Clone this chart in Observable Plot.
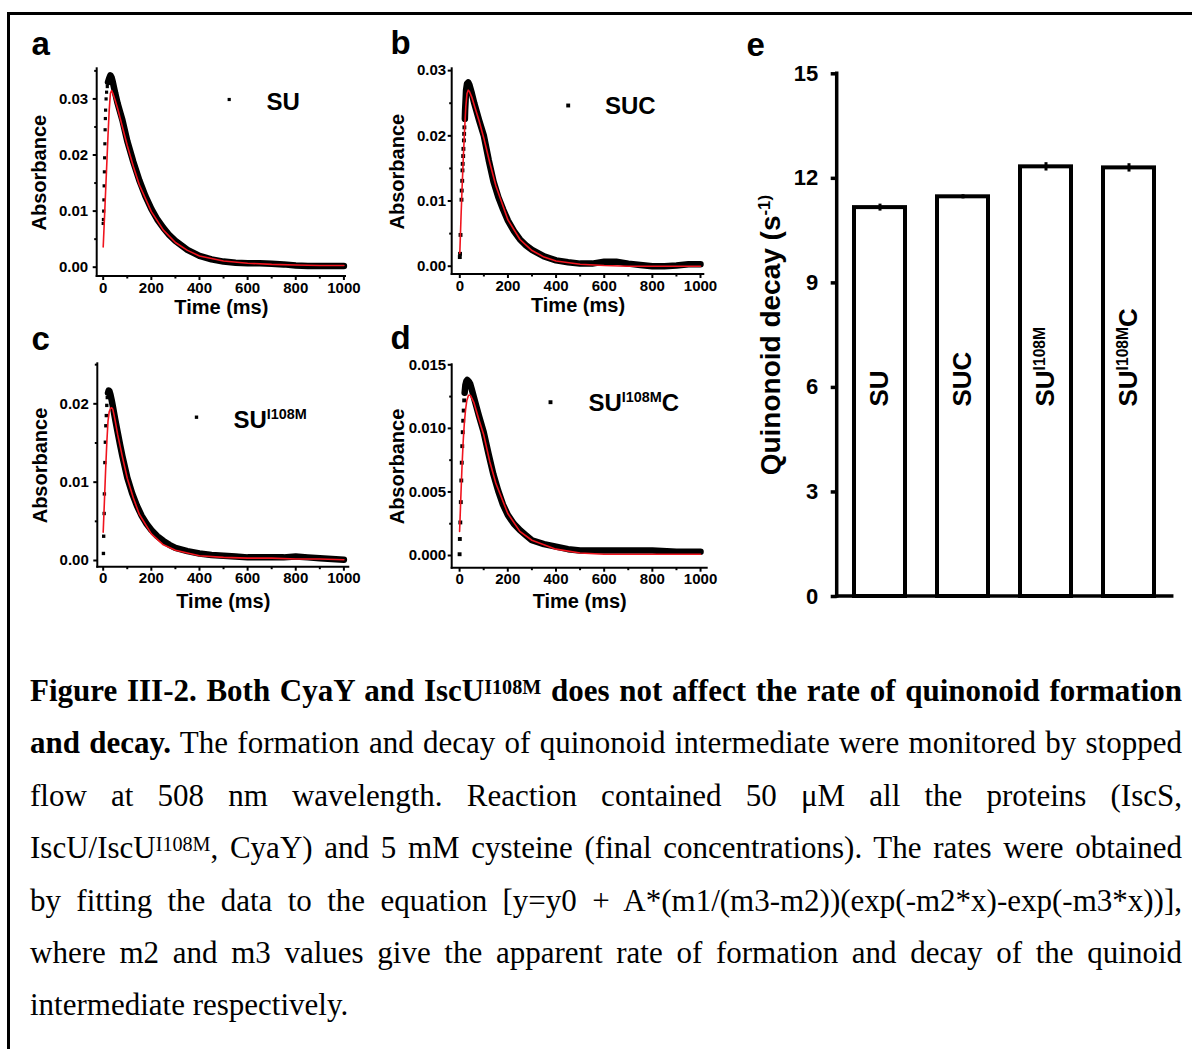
<!DOCTYPE html>
<html><head><meta charset="utf-8">
<script src="https://cdn.jsdelivr.net/npm/d3@7"></script>
<script src="https://cdn.jsdelivr.net/npm/@observablehq/plot@0.6"></script>
<style>
html,body{margin:0;padding:0;background:#fff;}
#fig{position:relative;width:1192px;height:1049px;overflow:hidden;background:#fff;}
#border{position:absolute;left:7px;top:12px;width:1200px;height:1060px;border-top:3px solid #000;border-left:3px solid #000;}
.panel{position:absolute;}
.cap{position:absolute;left:30px;font-family:"Liberation Serif","Times New Roman",serif;font-size:31px;line-height:31px;white-space:nowrap;color:#000;}
.cap sup{font-size:0.65em;vertical-align:baseline;position:relative;top:-0.36em;line-height:0;}
</style></head><body><div id="fig"><div id="border"></div></div>
<script>
// ---------- data ----------
const xMajor = [0, 200, 400, 600, 800, 1000];
const xMinor = [100, 300, 500, 700, 900];

// panel a : SU
const timeSU = [0,1,2,3,4,5,6,7,8,9,10,12,14,17,20,25,30,35,40,50,60,70,80,100,125,150,175,200,225,250,275,300,350,400,450,500,550,600,650,700,750,800,850,900,950,1000];
const absSU  = [0.0078,0.0085,0.0100,0.0120,0.0145,0.0170,0.0195,0.0220,0.0245,0.0265,0.0280,0.0300,0.0312,0.0322,0.0330,0.0337,0.0342,0.0338,0.0330,0.0310,0.0292,0.0277,0.0262,0.0225,0.0188,0.0155,0.0127,0.0104,0.0085,0.0070,0.0057,0.0047,0.0031,0.0020,0.0014,0.0010,0.0008,0.0007,0.0007,0.0006,0.0005,0.0003,0.0002,0.0002,0.0002,0.0002];
const fitTimeSU = [0,5,10,15,20,25,30,35,40,50,60,80,100,125,150,200,250,300,350,400,500,600,700,800,900,1000];
const fitSU     = [0.0036,0.0085,0.0135,0.0185,0.0235,0.0280,0.0310,0.0315,0.0310,0.0297,0.0283,0.0250,0.0217,0.0180,0.0147,0.0099,0.0066,0.0044,0.0030,0.0020,0.0011,0.0007,0.0005,0.0004,0.0003,0.0003];

// panel b : SUC
const timeSUC = [0,1,3,7,8,10,11,12,14,15,17,18,19,21,22,24,26,30,35,40,50,60,70,80,100,120,140,160,180,200,225,250,275,300,350,400,450,500,550,600,650,700,750,800,850,900,950,1000];
const absSUC  = [0.0014,0.0019,0.0048,0.0102,0.0116,0.0131,0.0147,0.0157,0.0169,0.0180,0.0193,0.0203,0.0213,0.0226,0.0239,0.0254,0.0270,0.0280,0.0282,0.0278,0.0265,0.0250,0.0237,0.0224,0.0200,0.0163,0.0130,0.0106,0.0087,0.0070,0.0054,0.0041,0.0032,0.0025,0.0015,0.0009,0.0006,0.0004,0.0004,0.0007,0.0007,0.0004,0.0002,0.0000,0.0000,0.0001,0.0003,0.0003];
const fitTimeSUC = [0,5,10,15,20,25,30,35,40,50,60,80,100,125,150,200,250,300,350,400,500,600,700,800,900,1000];
const fitSUC     = [0.0020,0.0075,0.0125,0.0170,0.0210,0.0245,0.0265,0.0270,0.0268,0.0259,0.0247,0.0223,0.0196,0.0158,0.0123,0.0071,0.0041,0.0024,0.0014,0.0008,0.0003,0.0001,0.0000,0.0000,0.0000,0.0000];

// panel c : SU I108M
const timeSUI = [1,2,4,5,7,9,11,13,15,17,20,23,26,30,35,40,50,60,70,80,100,120,140,160,180,200,225,250,275,300,350,400,450,500,550,600,650,700,750,800,850,900,950,1000];
const absSUI  = [0.0009,0.0031,0.0060,0.0085,0.0125,0.0151,0.0172,0.0185,0.0198,0.0208,0.0214,0.0217,0.0216,0.0212,0.0205,0.0197,0.0180,0.0164,0.0148,0.0133,0.0106,0.0086,0.0070,0.0057,0.0047,0.0039,0.0031,0.0025,0.0020,0.0016,0.0012,0.0009,0.0007,0.0006,0.0005,0.0004,0.0004,0.0004,0.0004,0.0005,0.0004,0.0003,0.0002,0.0001];
const fitTimeSUI = [0,5,10,15,20,25,30,35,40,45,50,60,80,100,125,150,200,250,300,400,500,600,700,800,900,1000];
const fitSUI     = [0.0036,0.0075,0.0115,0.0150,0.0178,0.0190,0.0194,0.0195,0.0193,0.0186,0.0178,0.0161,0.0132,0.0105,0.0080,0.0059,0.0034,0.0020,0.0013,0.0006,0.0004,0.0003,0.0003,0.0002,0.0002,0.0001];

// panel d : SU I108M C
const timeSUIC = [0,1,3,5,7,9,11,13,15,17,19,21,24,28,32,38,44,50,60,70,80,100,120,140,160,180,200,225,250,275,300,350,400,450,500,600,700,800,900,1000];
const absSUIC  = [0.0001,0.0013,0.0026,0.0042,0.0059,0.0073,0.0086,0.0097,0.0106,0.0114,0.0122,0.0128,0.0134,0.0137,0.0138,0.0137,0.0135,0.0131,0.0124,0.0117,0.0110,0.0097,0.0080,0.0064,0.0051,0.0040,0.0032,0.0025,0.0020,0.0016,0.0012,0.0009,0.0007,0.0005,0.0004,0.0004,0.0004,0.0004,0.0003,0.0003];
const fitTimeSUIC = [0,5,10,15,20,25,30,37,45,60,80,100,125,150,200,250,300,400,500,600,800,1000];
const fitSUIC     = [0.0019,0.0045,0.0070,0.0090,0.0105,0.0115,0.0122,0.0126,0.0126,0.0120,0.0107,0.0095,0.0074,0.0057,0.0033,0.0019,0.0012,0.0005,0.0002,0.0001,0.0001,0.0001];

// panel e : quinonoid decay rates
const eLabels = ["SU", "SUC", "SU^I108M", "SU^I108M^C"];
const eValues = [11.16, 11.47, 12.33, 12.30];
const eErrors = [0.10, 0.06, 0.12, 0.12];
const eTicks = [0, 3, 6, 9, 12, 15];
const eAxisTitle = "Quinonoid decay (s^-1)";

const captionLines = [
  "<b>Figure III-2. Both CyaY and IscU<sup>I108M</sup> does not affect the rate of quinonoid formation</b>",
  "<b>and decay.</b> The formation and decay of quinonoid intermediate were monitored by stopped",
  "flow at 508 nm wavelength. Reaction contained 50 μM all the proteins (IscS,",
  "IscU/IscU<sup>I108M</sup>, CyaY) and 5 mM cysteine (final concentrations). The rates were obtained",
  "by fitting the data to the equation [y=y0 + A*(m1/(m3-m2))(exp(-m2*x)-exp(-m3*x))],",
  "where m2 and m3 values give the apparent rate of formation and decay of the quinoid",
  "intermediate respectively."
];

// ---------- helpers ----------
const FONT = "'Liberation Sans', Arial, Helvetica, sans-serif";
const fig = document.getElementById("fig");
const rows = (ts, as) => ts.map((t, i) => ({t, a: as[i]}));

function frameLines(sw) {
  return (index, scales, values, dim) => {
    const g = d3.create("svg:g").attr("stroke", "black").attr("stroke-width", sw).attr("stroke-linecap", "square").attr("fill", "none");
    const l = dim.marginLeft, r = dim.width - dim.marginRight, t = dim.marginTop, b = dim.height - dim.marginBottom;
    g.append("line").attr("x1", l).attr("x2", l).attr("y1", t).attr("y2", b);
    g.append("line").attr("x1", l).attr("x2", r).attr("y1", b).attr("y2", b);
    return g.node();
  };
}

function supify(svg, base) {
  d3.select(svg).selectAll("text").each(function () {
    const s = this.textContent;
    if (!s.includes("^")) return;
    const parts = s.split("^");
    const sel = d3.select(this);
    const fs = +sel.attr("font-size") || +d3.select(this.parentNode).attr("font-size") || base;
    sel.text(null);
    const shift = fs * 0.36, small = fs * 0.6;
    parts.forEach((p, i) => {
      const ts = sel.append("tspan").text(p);
      if (i % 2 === 1) ts.attr("font-size", small).attr("dy", -shift);
      else if (i > 0) ts.attr("font-size", fs).attr("dy", shift);
    });
  });
}

function place(svg, left, top) {
  svg.classList.add("panel");
  svg.style.left = left + "px";
  svg.style.top = top + "px";
  fig.appendChild(svg);
}

function kinetic(c) {
  const ml = c.fL - c.left, mr = c.left + c.width - c.fR, mt = c.fT - c.top, mb = c.top + c.height - c.fB;
  const obs = rows(c.t, c.a), fit = rows(c.ft, c.fa);
  const svg = Plot.plot({
    width: c.width, height: c.height,
    marginLeft: ml, marginRight: mr, marginTop: mt, marginBottom: mb,
    style: {background: "transparent", fontFamily: FONT, fontWeight: "bold", color: "black", overflow: "visible"},
    x: {domain: c.xd},
    y: {domain: c.yd},
    marks: [
      frameLines(2),
      Plot.axisX({ticks: xMajor, tickFormat: d => String(d), tickSize: 4, tickPadding: 1.5, fontSize: 15, fontWeight: "bold", strokeWidth: 2, label: null}),
      Plot.axisX({ticks: xMinor, tickFormat: () => "", tickSize: 2.5, strokeWidth: 2, label: null}),
      Plot.axisY({ticks: c.yTicks, tickFormat: d3.format(c.yFmt), tickSize: 4, tickPadding: c.yPad, fontSize: 15, fontWeight: "bold", strokeWidth: 2, label: null}),
      Plot.axisY({ticks: c.yMinor, tickFormat: () => "", tickSize: 2.5, strokeWidth: 2, label: null}),
      Plot.line(obs, {filter: d => d.t >= 20, x: "t", y: "a", stroke: "black", strokeWidth: 6.5, strokeLinejoin: "round", strokeLinecap: "round"}),
      Plot.dot(obs, {filter: d => d.t <= 30, x: "t", y: "a", symbol: "square", r: c.r, fill: "black"}),
      Plot.line(fit, {x: "t", y: "a", stroke: "#f0141e", strokeWidth: 1.6}),
      Plot.text(["Absorbance"], {text: d => d, frameAnchor: "left", rotate: -90, dx: c.absX - c.fL, textAnchor: "middle", lineAnchor: "middle", fontSize: 20, fontWeight: "bold"}),
      Plot.text(["Time (ms)"], {text: d => d, frameAnchor: "bottom", dy: c.timeB - c.fB, textAnchor: "middle", lineAnchor: "bottom", fontSize: 20, fontWeight: "bold"}),
      Plot.dot([c.legend], {frameAnchor: "top-left", dx: c.sq[0] - c.fL, dy: c.sq[1] - c.fT, symbol: "square", r: c.r, fill: "black"}),
      Plot.text([c.legend], {text: d => d, frameAnchor: "top-left", dx: c.lt[0] - c.fL, dy: c.lt[1] - c.fT, textAnchor: "start", lineAnchor: "bottom", fontSize: 24, fontWeight: "bold"}),
      Plot.text([c.letter], {text: d => d, frameAnchor: "top-left", dx: c.pl[0] - c.fL, dy: c.pl[1] - c.fT, textAnchor: "start", lineAnchor: "bottom", fontSize: 33, fontWeight: "bold"})
    ]
  });
  supify(svg, 24);
  place(svg, c.left, c.top);
}

// ---------- panels a–d ----------
kinetic({letter: "a", legend: "SU", t: timeSU, a: absSU, ft: fitTimeSU, fa: fitSU,
  left: 0, top: 20, width: 370, height: 300, fL: 96.7, fR: 345, fT: 68.3, fB: 276,
  xd: [-24.9, 1006.6], yd: [-0.00166, 0.03537], yTicks: [0, 0.01, 0.02, 0.03], yMinor: [0.005, 0.015, 0.025, 0.035], yFmt: ".2f", yPad: 5,
  r: 1.8, absX: 39, timeB: 313, sq: [228.7, 99], lt: [266, 109.5], pl: [31, 54]});

kinetic({letter: "b", legend: "SUC", t: timeSUC, a: absSUC, ft: fitTimeSUC, fa: fitSUC,
  left: 370, top: 20, width: 360, height: 300, fL: 451.7, fR: 703.3, fT: 68.3, fB: 274,
  xd: [-31.6, 1013.7], yd: [-0.00127, 0.03028], yTicks: [0, 0.01, 0.02, 0.03], yMinor: [0.005, 0.015, 0.025], yFmt: ".2f", yPad: 2,
  r: 2.2, absX: 396.7, timeB: 311, sq: [567.7, 105], lt: [604.5, 113.5], pl: [390, 53]});

kinetic({letter: "c", legend: "SU^I108M", t: timeSUI, a: absSUI, ft: fitTimeSUI, fa: fitSUI,
  left: 0, top: 315, width: 370, height: 300, fL: 97.3, fR: 348.3, fT: 363.3, fB: 566.7,
  xd: [-22.4, 1020.4], yd: [-0.000855, 0.02511], yTicks: [0, 0.01, 0.02], yMinor: [0.005, 0.015, 0.025], yFmt: ".2f", yPad: 5,
  r: 1.9, absX: 40, timeB: 607, sq: [196, 416.7], lt: [233, 427], pl: [31, 349]});

kinetic({letter: "d", legend: "SU^I108M^C", t: timeSUIC, a: absSUIC, ft: fitTimeSUIC, fa: fitSUIC,
  left: 370, top: 315, width: 360, height: 300, fL: 451.7, fR: 706.7, fT: 364.3, fB: 567.7,
  xd: [-30.7, 1027.6], yd: [-0.000998, 0.015], yTicks: [0, 0.005, 0.010, 0.015], yMinor: [0.0025, 0.0075, 0.0125], yFmt: ".3f", yPad: 2,
  r: 2.2, absX: 396.7, timeB: 607, sq: [550, 401.7], lt: [588, 410.5], pl: [390, 348]});

// ---------- panel e ----------
{
  const left = 740, top = 20, width = 452, height = 600;
  const fL = 836.7, fR = 1171.7, fT = 73.3, fB = 596;
  const eRows = eLabels.map((name, i) => ({name, value: eValues[i], err: eErrors[i]}));
  const svg = Plot.plot({
    width, height,
    marginLeft: fL - left, marginRight: left + width - fR, marginTop: fT - top, marginBottom: top + height - fB,
    style: {background: "transparent", fontFamily: FONT, fontWeight: "bold", color: "black", overflow: "visible"},
    x: {domain: eLabels, paddingInner: 0.38, paddingOuter: 0.19, axis: null},
    y: {domain: [0, 15]},
    marks: [
      Plot.barY(eRows, {x: "name", y: "value", fill: "white", stroke: "black", strokeWidth: 4}),
      Plot.ruleX(eRows, {x: "name", y1: d => d.value - d.err, y2: d => d.value + d.err, stroke: "black", strokeWidth: 3}),
      frameLines(3.5),
      Plot.axisY({ticks: eTicks, tickFormat: d => String(d), tickSize: 6, tickPadding: 13, fontSize: 22, fontWeight: "bold", strokeWidth: 3.5, label: null}),
      Plot.text(eRows, {x: "name", text: "name", frameAnchor: "bottom", dy: 406 - fB, rotate: -90, textAnchor: "start", lineAnchor: "middle", fontSize: 26, fontWeight: "bold"}),
      Plot.text([eAxisTitle], {text: d => d, frameAnchor: "left", rotate: -90, dx: 771 - fL, textAnchor: "middle", lineAnchor: "middle", fontSize: 28, fontWeight: "bold"}),
      Plot.text(["e"], {text: d => d, frameAnchor: "top-left", dx: 746 - fL, dy: 55 - fT, textAnchor: "start", lineAnchor: "bottom", fontSize: 33, fontWeight: "bold"})
    ]
  });
  supify(svg, 26);
  place(svg, left, top);
}

// ---------- caption ----------
const capWidth = 1152, firstBaseline = 701, lineStep = 52.4;
captionLines.forEach((html, i) => {
  const div = document.createElement("div");
  div.className = "cap";
  div.style.top = (firstBaseline + i * lineStep - 26) + "px";
  const span = document.createElement("span");
  span.innerHTML = html;
  div.appendChild(span);
  fig.appendChild(div);
  if (i < captionLines.length - 1) {
    const w = span.getBoundingClientRect().width;
    const spaces = (span.textContent.match(/ /g) || []).length;
    if (spaces > 0) div.style.wordSpacing = ((capWidth - w) / spaces) + "px";
  }
});
</script></body></html>
